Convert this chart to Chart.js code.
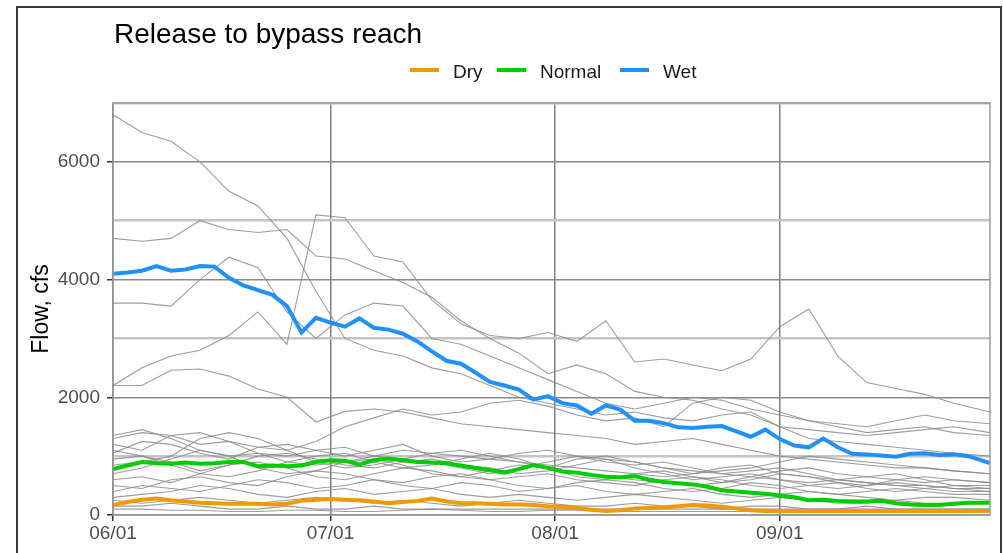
<!DOCTYPE html>
<html>
<head>
<meta charset="utf-8">
<script src="https://cdn.jsdelivr.net/npm/chart.js@4.4.1/dist/chart.umd.min.js"></script>
<style>
  body { margin: 0; background: #fff; }
  canvas { display: block; }
</style>
</head>
<body>
<canvas id="flowChart" width="1003" height="553"></canvas>
<script>
// day offsets from 06/01
const daysCoarse = [0,4,8,12,16,20,24,28,32,36,40,44,48,52,56,60,64,68,72,76,80,84,88,92,96,100,104,108,112,116,121];
const daysFine = [0,2,4,6,8,10,12,14,16,18,20,22,24,26,28,30,32,34,36,38,40,42,44,46,48,50,52,54,56,58,60,62,64,66,68,70,72,74,76,78,80,82,84,86,88,90,92,94,96,98,100,102,104,106,108,110,112,114,116,118,121];

const tickDays = [0, 30, 61, 92];
const tickLabels = ["06/01", "07/01", "08/01", "09/01"];

const seriesNames = ["Dry", "Normal", "Wet"];
const seriesColors = ["#ee9a00", "#00cd00", "#1e90ff"];

const dry = [170,220,260,280,250,230,210,200,190,190,190,180,190,240,260,270,260,250,230,200,220,240,280,230,200,200,190,180,180,170,150,140,120,90,70,80,110,120,130,150,170,160,140,110,80,70,70,70,70,70,70,70,70,70,70,70,70,70,70,70,70];
const normal = [780,840,900,880,870,890,870,880,900,900,830,840,830,840,900,930,920,860,930,960,930,900,890,880,840,800,760,720,780,850,800,740,720,680,650,640,660,600,560,540,520,480,420,400,380,360,330,300,250,260,240,230,230,240,200,180,170,170,190,210,210];
const wet = [4100,4120,4150,4230,4150,4170,4230,4220,4030,3900,3820,3740,3550,3100,3350,3270,3200,3340,3180,3150,3080,2950,2780,2620,2570,2420,2260,2200,2130,1960,2020,1900,1860,1720,1860,1790,1600,1600,1560,1490,1480,1500,1510,1420,1330,1450,1290,1180,1150,1300,1150,1040,1030,1010,990,1040,1050,1020,1030,1000,880];

// individual years (grey)
const yearA = [6800,6500,6350,6000,5500,5250,4700,3800,3000,2800,2700,2500,2400,2200,2000,1900,1800,1700,1750,1650,1600,1700,1750,1500,1300,1250,1200,1150,1100,1050,1000];
const yearB = [4700,4650,4700,5000,4850,4800,4850,4400,4350,4150,3950,3700,3300,3000,2750,2400,2550,2400,2100,2000,1950,1800,1700,1500,1450,1400,1350,1400,1450,1500,1400];
const yearC = [2200,2500,2700,2800,3050,3450,2900,5100,5050,4400,4300,3650,3250,3050,3000,3100,2950,3300,2600,2650,2550,2450,2650,3200,3500,2700,2250,2150,2050,1900,1750];
const yearD = [3600,3600,3550,4000,4380,4200,3450,3000,3400,3600,3550,3000,2900,2700,2500,2300,2100,1900,1800,1900,2000,1950,1800,1700,1600,1500,1400,1450,1500,1400,1350];
const yearF = [2200,2200,2460,2480,2360,2140,2000,1580,1760,1800,1750,1650,1550,1500,1450,1400,1350,1300,1200,1250,1300,1200,1100,1000,950,900,850,800,800,750,700];
const yearG = [1300,1400,1350,1200,1250,1150,1100,1250,1500,1650,1800,1700,1750,1900,1950,1850,1700,1600,1650,1500,1900,2000,1950,1750,1600,1550,1500,1600,1700,1600,1550];
const yearH = [1350,1450,1300,1100,1000,1050,900,850,900,1000,1100,1050,1000,950,900,850,800,750,700,650,700,800,850,700,650,600,550,500,500,450,450];
const yearI = [1200,1100,1350,1400,1250,1050,1000,1100,1150,1000,950,1050,1100,1000,900,800,950,1000,900,800,750,700,650,600,550,600,650,600,550,600,550];
const yearJ = [1050,1250,1200,1050,950,1150,1200,1100,1000,1100,1200,1000,900,950,1050,1100,1000,900,850,900,800,700,750,800,700,600,550,500,450,400,400];
const yearK = [950,1000,900,750,850,1000,1050,950,850,800,900,950,850,800,700,750,850,950,900,800,700,750,800,900,1000,950,900,850,800,750,700];
const yearL = [700,800,950,1100,1000,800,700,750,900,950,850,700,650,750,850,800,650,600,700,750,650,550,600,700,650,550,500,600,650,600,550];
const yearM = [600,650,550,700,850,900,800,650,600,700,800,750,650,600,650,700,600,550,500,600,650,600,500,450,500,550,450,400,450,500,450];
const yearN = [500,450,600,650,550,500,650,750,700,600,550,650,700,600,500,450,550,600,550,450,400,450,550,500,400,350,400,450,400,350,350];
const yearO = [400,500,450,400,500,600,550,450,500,600,500,450,550,500,400,450,500,400,350,400,450,350,300,350,400,350,300,250,300,300,250];
const yearP = [300,350,400,500,450,350,300,400,450,350,400,450,350,300,350,300,250,300,350,300,250,200,250,300,250,200,200,250,200,200,200];
const yearQ = [250,200,250,300,250,200,250,300,250,200,250,200,150,200,250,200,150,150,200,150,150,100,150,150,100,100,150,100,100,100,100];
const yearR = [150,150,200,150,100,100,150,100,100,150,100,100,100,100,100,100,100,100,100,100,100,100,100,100,100,100,100,100,100,100,100];
const yearS = [100,100,80,80,60,60,80,80,60,60,80,100,80,60,60,80,80,60,60,60,60,60,60,60,60,60,60,60,60,60,60];
const yearT = [850,900,1000,1300,1400,1300,1100,900,800,850,950,900,800,700,800,900,1000,950,800,700,600,650,700,600,500,450,500,550,500,450,400];
const yearU = [1100,1000,850,700,650,750,900,1000,1050,900,800,850,950,1050,950,800,700,650,600,550,500,550,650,750,800,700,650,700,600,500,500];

const greyYears = [yearA,yearB,yearC,yearD,yearF,yearG,yearH,yearI,yearJ,yearK,yearL,yearM,yearN,yearO,yearP,yearQ,yearR,yearS,yearT,yearU];

const FONT = "'Liberation Sans', Arial, sans-serif";

function pts(days, vals) {
  return days.map((d, i) => ({ x: d, y: vals[i] }));
}

const datasets = [];

[dry, normal, wet].forEach((vals, i) => {
  datasets.push({
    label: seriesNames[i],
    data: pts(daysFine, vals),
    borderColor: seriesColors[i],
    borderWidth: 4,
    order: 0
  });
});

greyYears.forEach((vals) => {
  datasets.push({
    label: "",
    data: pts(daysCoarse, vals),
    borderColor: "rgba(140,140,140,0.85)",
    borderWidth: 1.1,
    order: 1
  });
});

// title, legend, axis title, frame
const decorations = {
  id: "decorations",
  afterDraw(chart) {
    const c = chart.ctx;
    const a = chart.chartArea;
    c.save();

    c.strokeStyle = "#9a9a9a";
    c.lineWidth = 1.5;
    c.strokeRect(a.left, a.top, a.right - a.left, a.bottom - a.top);

    c.strokeStyle = "#3a3a3a";
    c.lineWidth = 2;
    c.strokeRect(17, 7, 984, 600);

    c.fillStyle = "#000";
    c.font = "28px " + FONT;
    c.textAlign = "left";
    c.textBaseline = "alphabetic";
    c.fillText("Release to bypass reach", 114, 43);

    const legendX = [410, 497, 620];
    c.font = "19px " + FONT;
    seriesNames.forEach((name, i) => {
      c.strokeStyle = seriesColors[i];
      c.lineWidth = 4;
      c.beginPath();
      c.moveTo(legendX[i], 70);
      c.lineTo(legendX[i] + 29, 70);
      c.stroke();
      c.fillStyle = "#1a1a1a";
      c.fillText(name, legendX[i] + 43, 78);
    });

    c.translate(42, 309);
    c.rotate(-Math.PI / 2);
    c.textAlign = "center";
    c.textBaseline = "middle";
    c.font = "23px " + FONT;
    c.fillStyle = "#000";
    c.fillText("Flow, cfs", 0, 0);
    c.restore();
  }
};

new Chart(document.getElementById("flowChart"), {
  type: "line",
  data: { datasets: datasets },
  options: {
    responsive: false,
    animation: false,
    layout: { padding: { top: 103, right: 13, left: 0, bottom: 0 } },
    elements: { point: { radius: 0 }, line: { tension: 0 } },
    plugins: {
      legend: { display: false },
      title: { display: false },
      tooltip: { enabled: false }
    },
    scales: {
      x: {
        type: "linear",
        min: 0,
        max: 121,
        afterBuildTicks: (s) => { s.ticks = tickDays.map(v => ({ value: v })); },
        afterFit: (s) => { s.height = 38; },
        ticks: {
          autoSkip: false,
          maxRotation: 0,
          padding: 1,
          color: "#4d4d4d",
          font: { family: FONT, size: 19 },
          callback: (v, i) => tickLabels[i]
        },
        grid: { color: "#7f7f7f", lineWidth: 1.5, tickLength: 6, tickColor: "#333" },
        border: { display: false }
      },
      y: {
        min: 0,
        max: 7000,
        afterFit: (s) => { s.width = 113; },
        ticks: {
          stepSize: 1000,
          padding: 7,
          color: "#4d4d4d",
          font: { family: FONT, size: 19 },
          callback: (v) => (v % 2000 === 0 && v < 7000 ? String(v) : "")
        },
        grid: {
          color: (ctx) => (ctx.tick && ctx.tick.value % 2000 === 0 ? "#8a8a8a" : "#c4c4c4"),
          lineWidth: (ctx) => (ctx.tick && ctx.tick.value % 2000 === 0 ? 1.5 : 2.5),
          tickLength: 6,
          tickColor: (ctx) => (ctx.tick && ctx.tick.value % 2000 === 0 ? "#333" : "rgba(0,0,0,0)")
        },
        border: { display: false }
      }
    }
  },
  plugins: [decorations]
});
</script>
</body>
</html>
